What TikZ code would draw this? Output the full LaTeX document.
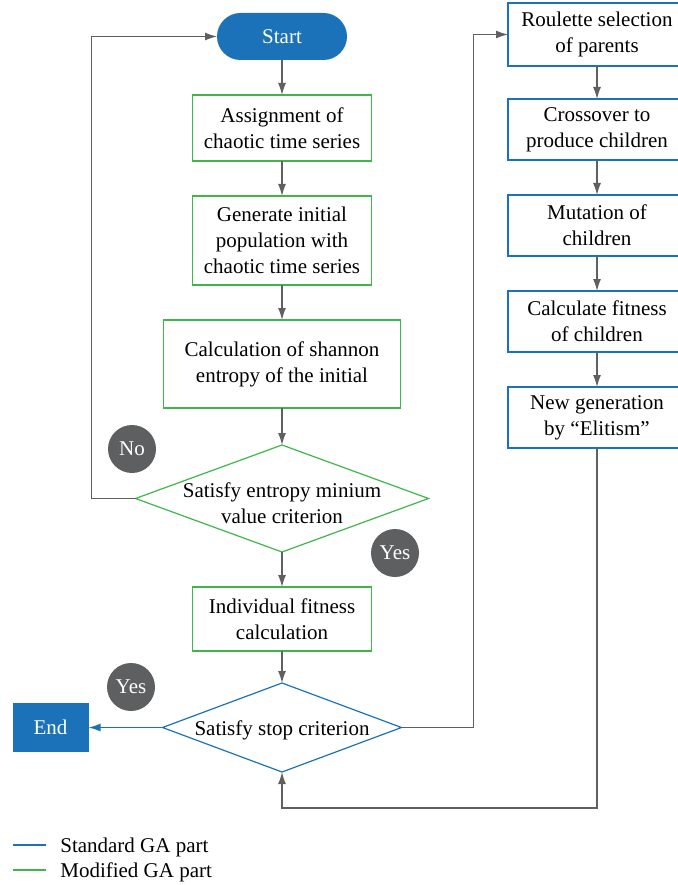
\documentclass[tikz,border=0pt]{standalone}
\usepackage{fontspec}
\setmainfont{Liberation Serif}
\usetikzlibrary{arrows.meta,positioning,shapes.geometric,calc}
\definecolor{stdblue}{RGB}{28,114,184}
\definecolor{modgreen}{RGB}{62,182,74}
\definecolor{flowgray}{RGB}{96,96,96}
\definecolor{badgegray}{RGB}{94,95,96}
\tikzset{
    txt/.style      = {font=\fontsize{21pt}{26pt}\selectfont, align=center, outer sep=0pt},
    line/.style     = {-{Latex[length=12pt,width=8pt]}, line width=1.2pt, draw=flowgray},
    stdline/.style  = {line, draw=stdblue},
    stdblock/.style = {txt, draw=stdblue, line width=1.2pt,
            minimum width=178pt, minimum height=61pt, inner sep=2pt},
    modblock/.style = {txt, draw=modgreen, line width=1.2pt,
            minimum width=179pt, inner sep=2pt},
    decision/.style = {diamond, line width=1.2pt, inner sep=0pt, outer sep=0pt},
    terminal/.style = {txt, fill=stdblue, text=white},
    badge/.style    = {txt, circle, fill=badgegray, text=white,
            minimum size=48pt, inner sep=0pt},
}

\begin{document}
\begin{tikzpicture}[node distance=35pt]
    \useasboundingbox (0,0) rectangle (677pt,-885pt);
    % Nodes
    \node[terminal, rounded corners=23.5pt, minimum width=130pt, minimum height=47pt] (start) at (282pt,-36.5pt) {Start};
    \node[modblock, minimum height=66pt, below=of start] (assign) {Assignment of\\chaotic time series};
    \node[modblock, minimum height=89pt, below=of assign] (initpop) {Generate initial\\population with\\chaotic time series};
    \node[modblock, minimum width=237pt, minimum height=88pt, below=of initpop] (entropy) {Calculation of shannon\\entropy of the initial};
    \node[decision, draw=modgreen, minimum width=293pt, minimum height=107pt, below=37pt of entropy] (chkent) {};
    \node[txt] (chkenttxt) at ($(chkent)+(0,-5pt)$) {Satisfy entropy minium\\value criterion};
    \node[modblock, minimum height=64pt, below=of chkent] (fitness) {Individual fitness\\calculation};
    \node[decision, draw=stdblue, minimum width=239pt, minimum height=89pt, below=32pt of fitness] (chkstop) {};
    \node[txt] (chkstoptxt) at ($(chkstop)+(0,-3pt)$) {Satisfy stop criterion};
    \node[terminal, minimum width=76pt, minimum height=49pt, left=74pt of chkstop] (end) {End};
    % right column
    \node[stdblock, minimum height=63pt] (select) at (597pt,-34.5pt) {Roulette selection\\of parents};
    \node[stdblock, below=33pt of select] (cross) {Crossover to\\produce children};
    \node[stdblock, below=of cross] (mutate) {Mutation of\\children};
    \node[stdblock, below=of mutate] (calcfit) {Calculate fitness\\of children};
    \node[stdblock, below=of calcfit] (newgen) {New generation\\by ``Elitism''};
    % Yes / No
    \node[badge] (no) at (132pt,-449pt) {No};
    \node[badge] (yesent) at (395pt,-553pt) {Yes};
    \node[badge] (yesstop) at (131pt,-687pt) {Yes};
    % Arrows
    \draw[line] (start) -- (assign);
    \draw[line] (assign) -- (initpop);
    \draw[line] (initpop) -- (entropy);
    \draw[line] (entropy) -- (chkent);
    \draw[line] (chkent) -- (fitness);
    \draw[line] (fitness) -- (chkstop);
    \draw[stdline] (chkstop) -- (end);
    \coordinate (loopL) at ($(chkent.west)+(-44pt,0)$);
    \draw[line] (chkent.west) -- (loopL) |- (start.west);
    \coordinate (loopR) at ($(chkstop.east)+(72pt,0)$);
    \draw[line] (chkstop.east) -- (loopR) |- (select.west);
    \draw[line] (select) -- (cross);
    \draw[line] (cross) -- (mutate);
    \draw[line] (mutate) -- (calcfit);
    \draw[line] (calcfit) -- (newgen);
    \coordinate (back) at ($(newgen.south)+(0,-360pt)$);
    \draw[line] (newgen.south) -- (back) -| (chkstop.south);
    % Legend
    \draw[stdblue, line width=1.2pt] (13pt,-845pt) -- (46pt,-845pt);
    \node[txt, anchor=west] (legstd) at (57pt,-847pt) {Standard GA part};
    \draw[modgreen, line width=1.2pt] (13pt,-870pt) -- (46pt,-870pt);
    \node[txt, anchor=west] (legmod) at (57pt,-872pt) {Modified GA part};
\end{tikzpicture}
\end{document}
